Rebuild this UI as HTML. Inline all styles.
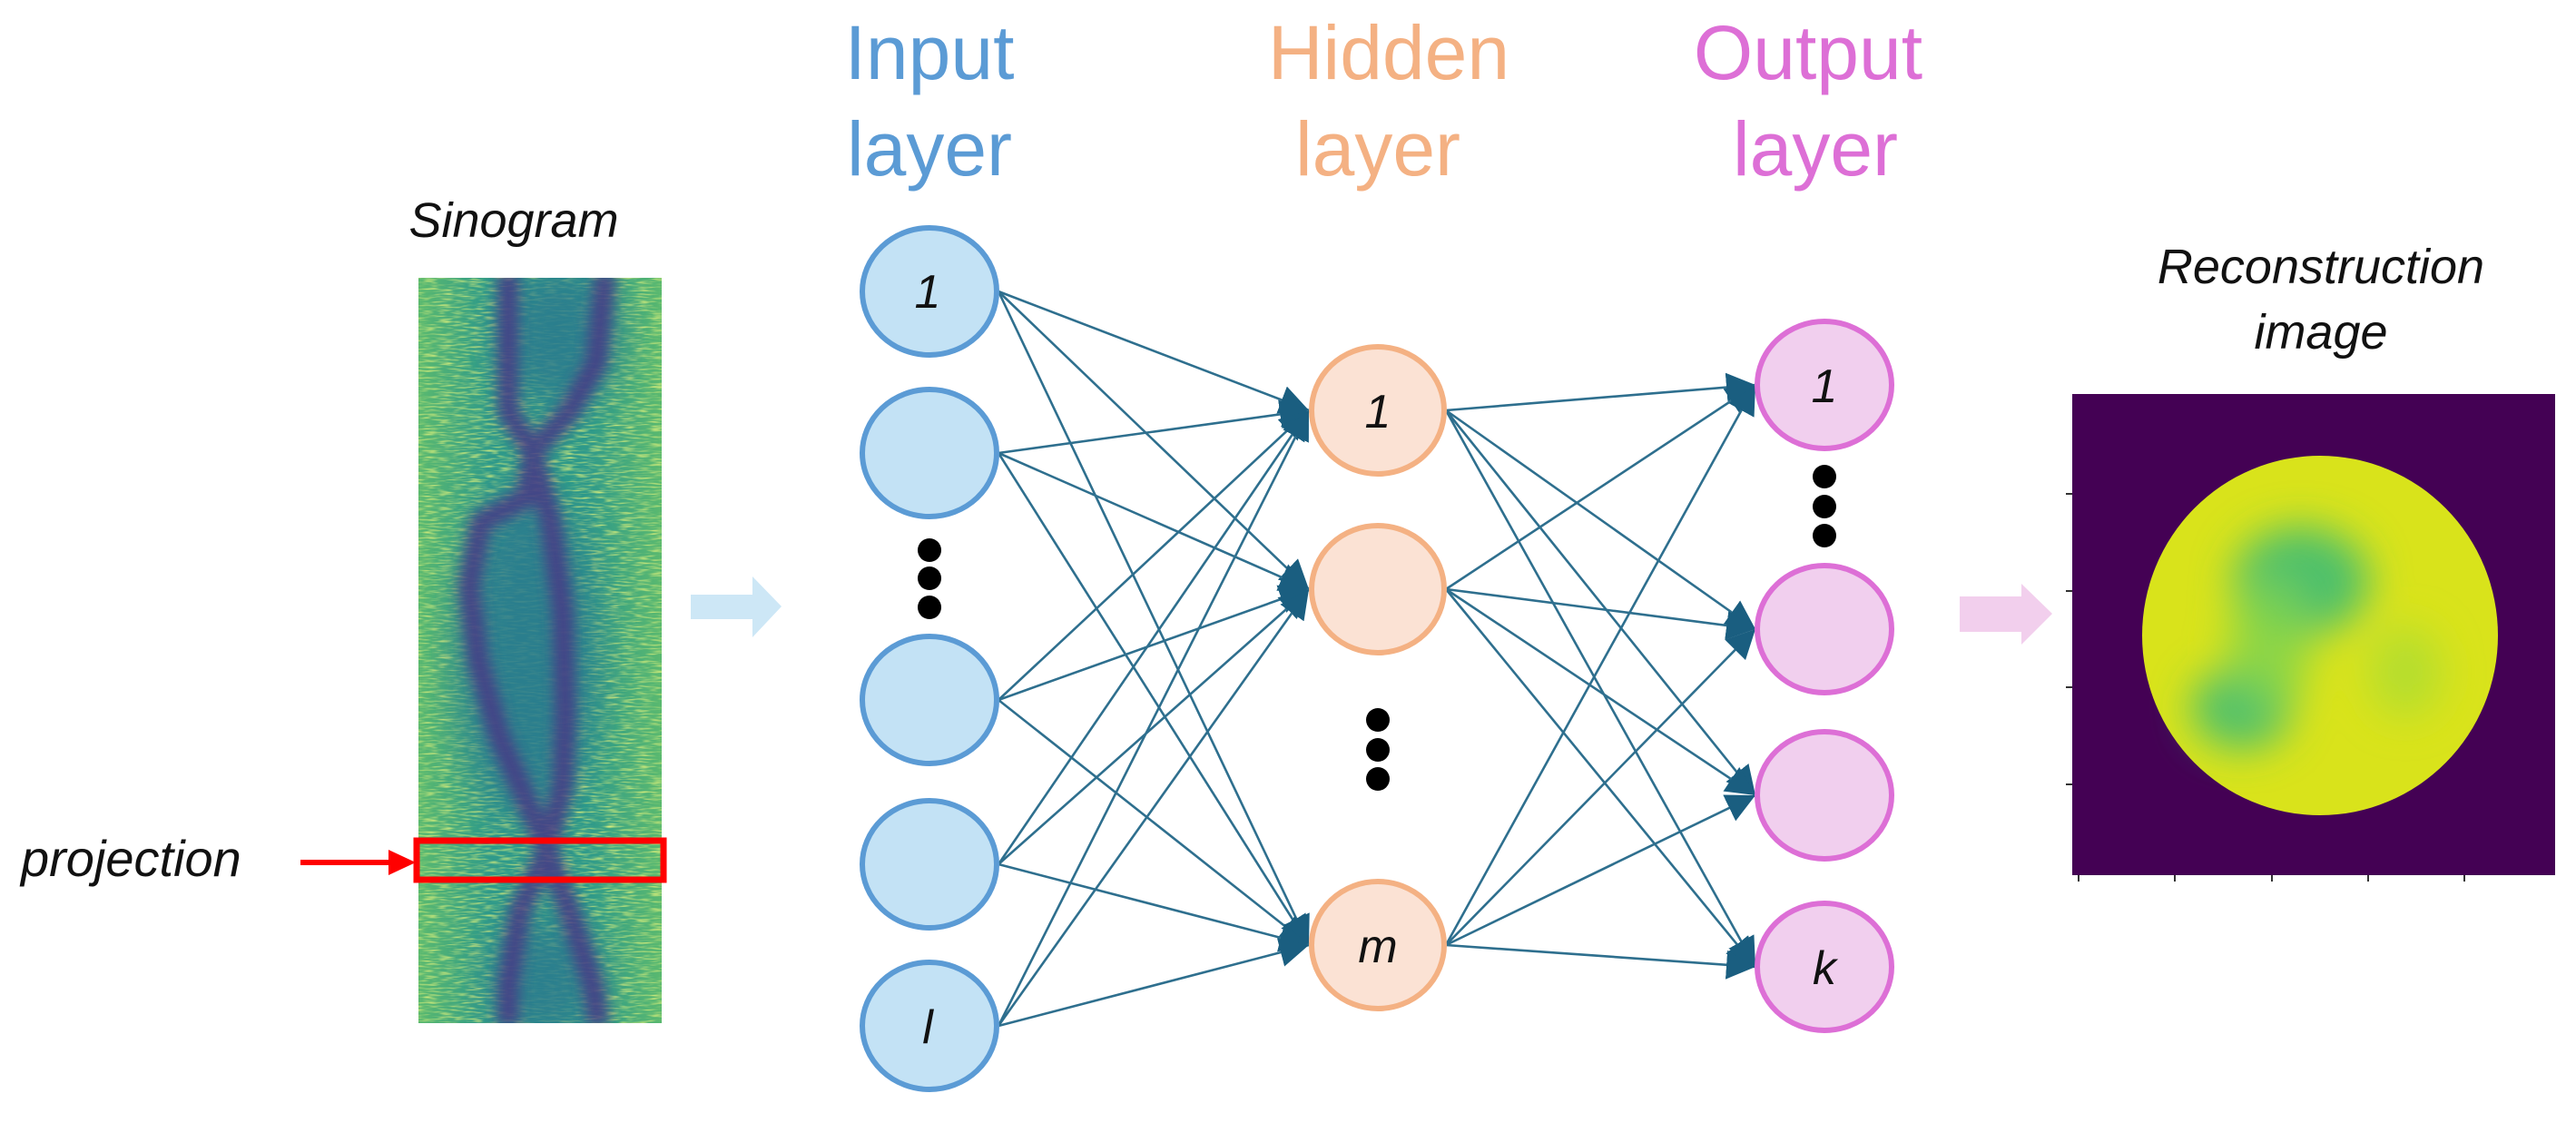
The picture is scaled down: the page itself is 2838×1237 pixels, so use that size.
<!DOCTYPE html>
<html><head><meta charset="utf-8">
<style>
html,body{margin:0;padding:0;background:#fff;}
svg{display:block;}
text{font-family:"Liberation Sans",sans-serif;}
</style></head>
<body>
<svg width="2838" height="1237" viewBox="0 0 2838 1237" xmlns="http://www.w3.org/2000/svg">
<defs>
<marker id="a" viewBox="0 0 10 10" refX="10" refY="5" markerWidth="32" markerHeight="32" markerUnits="userSpaceOnUse" orient="auto">
<path d="M0,0 L10,5 L0,10 z" fill="#1a5e80"/>
</marker>
<filter id="bl" x="-20%" y="-20%" width="140%" height="140%"><feGaussianBlur stdDeviation="7"/></filter>
<filter id="bl2" x="-50%" y="-50%" width="200%" height="200%"><feGaussianBlur stdDeviation="22"/></filter>
<filter id="noise" x="0" y="0" width="100%" height="100%">
<feTurbulence type="fractalNoise" baseFrequency="0.06 0.5" numOctaves="2" seed="3"/>
<feColorMatrix type="matrix" values="0 0 0 0 0.72  0 0 0 0 0.87  0 0 0 0 0.2  0 0 0 2.2 -1.0"/>
</filter>
<linearGradient id="sg" x1="0" x2="1" y1="0" y2="0">
<stop offset="0" stop-color="#5ab96f"/>
<stop offset="0.3" stop-color="#2f9a8a"/>
<stop offset="0.7" stop-color="#2f9a8a"/>
<stop offset="1" stop-color="#5ab96f"/>
</linearGradient>
<clipPath id="sc"><rect x="461" y="306" width="268" height="821"/></clipPath>
<clipPath id="rc"><rect x="2283" y="434" width="532" height="530"/></clipPath>
</defs>

<!-- Titles -->
<text x="1024" y="87" font-size="84" fill="#5b9bd5" text-anchor="middle">Input</text>
<text x="1024" y="193" font-size="84" fill="#5b9bd5" text-anchor="middle">layer</text>
<text x="1530" y="87" font-size="84" fill="#f4b183" text-anchor="middle">Hidden</text>
<text x="1518" y="193" font-size="84" fill="#f4b183" text-anchor="middle">layer</text>
<text x="1992" y="87" font-size="84" fill="#dd6fd6" text-anchor="middle">Output</text>
<text x="2000" y="193" font-size="84" fill="#dd6fd6" text-anchor="middle">layer</text>

<!-- Sinogram -->
<text x="566" y="261" font-size="54" font-style="italic" text-anchor="middle" fill="#111">Sinogram</text>
<g clip-path="url(#sc)">
<rect x="461" y="306" width="268" height="821" fill="url(#sg)"/>
<rect x="461" y="306" width="268" height="821" filter="url(#noise)"/>
<g filter="url(#bl2)" fill="#2c7a8e" opacity="0.85">
<ellipse cx="580" cy="720" rx="75" ry="180"/>
<ellipse cx="615" cy="370" rx="65" ry="80"/>
<ellipse cx="600" cy="1080" rx="60" ry="70"/>
</g>
<g filter="url(#bl)" fill="none" stroke="#463a86" stroke-width="24" stroke-linejoin="round" opacity="0.85">
<path d="M560,300 L560,454 L587,498 L580,548 L530,575 L517,646 L527,728 L550,811 L580,882 L603,937 L573,1002 L560,1085 L560,1130"/>
<path d="M667,300 L657,400 L627,454 L587,498 L607,575 L620,674 L623,783 L620,865 L603,937 L627,1002 L653,1085 L660,1130"/>
</g>
</g>
<rect x="459" y="926" width="272" height="43" fill="none" stroke="#ff0000" stroke-width="7"/>
<text x="23" y="965" font-size="56" font-style="italic" fill="#111">projection</text>
<line x1="331" y1="950" x2="432" y2="950" stroke="#ff0000" stroke-width="6"/>
<path d="M428,936 L458,950 L428,964 z" fill="#ff0000"/>

<!-- blue arrow -->
<path d="M761,655 L829,655 L829,635 L861,668 L829,702 L829,682 L761,682 z" fill="#cde7f6"/>
<!-- pink arrow -->
<path d="M2159,657 L2227,657 L2227,643 L2261,676 L2227,710 L2227,696 L2159,696 z" fill="#f2cfed"/>

<!-- connections input->hidden -->
<g stroke="#2e6f8e" stroke-width="2.6" marker-end="url(#a)">
<line x1="1100" y1="321" x2="1442" y2="452"/><line x1="1100" y1="321" x2="1442" y2="649"/><line x1="1100" y1="321" x2="1442" y2="1041"/>
<line x1="1100" y1="499" x2="1442" y2="452"/><line x1="1100" y1="499" x2="1442" y2="649"/><line x1="1100" y1="499" x2="1442" y2="1041"/>
<line x1="1100" y1="771" x2="1442" y2="452"/><line x1="1100" y1="771" x2="1442" y2="649"/><line x1="1100" y1="771" x2="1442" y2="1041"/>
<line x1="1100" y1="952" x2="1442" y2="452"/><line x1="1100" y1="952" x2="1442" y2="649"/><line x1="1100" y1="952" x2="1442" y2="1041"/>
<line x1="1100" y1="1130" x2="1442" y2="452"/><line x1="1100" y1="1130" x2="1442" y2="649"/><line x1="1100" y1="1130" x2="1442" y2="1041"/>
</g>
<!-- hidden->output -->
<g stroke="#2e6f8e" stroke-width="2.6" marker-end="url(#a)">
<line x1="1593" y1="452" x2="1934" y2="424"/><line x1="1593" y1="452" x2="1934" y2="693"/><line x1="1593" y1="452" x2="1934" y2="876"/><line x1="1593" y1="452" x2="1934" y2="1065"/>
<line x1="1593" y1="649" x2="1934" y2="424"/><line x1="1593" y1="649" x2="1934" y2="693"/><line x1="1593" y1="649" x2="1934" y2="876"/><line x1="1593" y1="649" x2="1934" y2="1065"/>
<line x1="1593" y1="1041" x2="1934" y2="424"/><line x1="1593" y1="1041" x2="1934" y2="693"/><line x1="1593" y1="1041" x2="1934" y2="876"/><line x1="1593" y1="1041" x2="1934" y2="1065"/>
</g>

<!-- input nodes -->
<g fill="#c3e2f5" stroke="#5b9bd5" stroke-width="6">
<ellipse cx="1024" cy="321" rx="74" ry="70"/>
<ellipse cx="1024" cy="499" rx="74" ry="70"/>
<ellipse cx="1024" cy="771" rx="74" ry="70"/>
<ellipse cx="1024" cy="952" rx="74" ry="70"/>
<ellipse cx="1024" cy="1130" rx="74" ry="70"/>
</g>
<!-- hidden nodes -->
<g fill="#fbe2d4" stroke="#f4b183" stroke-width="6">
<ellipse cx="1518" cy="452" rx="73" ry="70"/>
<ellipse cx="1518" cy="649" rx="73" ry="70"/>
<ellipse cx="1518" cy="1041" rx="73" ry="70"/>
</g>
<!-- output nodes -->
<g fill="#f1cfee" stroke="#dd6fd6" stroke-width="6">
<ellipse cx="2010" cy="424" rx="74" ry="70"/>
<ellipse cx="2010" cy="693" rx="74" ry="70"/>
<ellipse cx="2010" cy="876" rx="74" ry="70"/>
<ellipse cx="2010" cy="1065" rx="74" ry="70"/>
</g>
<!-- dots -->
<g fill="#000">
<circle cx="1024" cy="606" r="13"/><circle cx="1024" cy="637" r="13"/><circle cx="1024" cy="669" r="13"/>
<circle cx="1518" cy="793" r="13"/><circle cx="1518" cy="826" r="13"/><circle cx="1518" cy="858" r="13"/>
<circle cx="2010" cy="525" r="13"/><circle cx="2010" cy="558" r="13"/><circle cx="2010" cy="590" r="13"/>
</g>
<!-- node labels -->
<g font-size="52" font-style="italic" fill="#111" text-anchor="middle">
<text x="1022" y="339">1</text>
<text x="1022" y="1149">l</text>
<text x="1518" y="471">1</text>
<text x="1518" y="1060">m</text>
<text x="2010" y="443">1</text>
<text x="2010" y="1084">k</text>
</g>

<!-- Reconstruction -->
<text x="2557" y="312" font-size="54" font-style="italic" text-anchor="middle" fill="#111">Reconstruction</text>
<text x="2557" y="384" font-size="54" font-style="italic" text-anchor="middle" fill="#111">image</text>
<g clip-path="url(#rc)">
<rect x="2283" y="434" width="532" height="530" fill="#440154"/>
<ellipse cx="2556" cy="700" rx="196" ry="198" fill="#d9e31b"/>
<g filter="url(#bl2)">
<ellipse cx="2535" cy="640" rx="75" ry="60" fill="#3fbc73" opacity="0.9"/>
<ellipse cx="2470" cy="780" rx="55" ry="45" fill="#3fbc73" opacity="0.9"/>
<ellipse cx="2500" cy="710" rx="45" ry="75" fill="#7fd34e" opacity="0.8"/>
<ellipse cx="2650" cy="740" rx="40" ry="50" fill="#a5db36" opacity="0.7"/>
</g>
</g>
<g stroke="#333" stroke-width="2">
<line x1="2290" y1="964" x2="2290" y2="971"/><line x1="2396" y1="964" x2="2396" y2="971"/><line x1="2503" y1="964" x2="2503" y2="971"/><line x1="2609" y1="964" x2="2609" y2="971"/><line x1="2715" y1="964" x2="2715" y2="971"/>
<line x1="2276" y1="544" x2="2283" y2="544"/><line x1="2276" y1="651" x2="2283" y2="651"/><line x1="2276" y1="757" x2="2283" y2="757"/><line x1="2276" y1="864" x2="2283" y2="864"/>
</g>
</svg>
</body></html>
